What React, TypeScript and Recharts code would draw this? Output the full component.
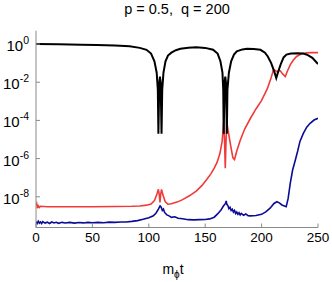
import * as React from 'react';
import { LineChart, Line, XAxis, YAxis } from 'recharts';

// time axis (m_phi t) and log10 of each quantity
const tBlack = [0, 20, 40, 54, 70, 83, 92, 98, 102, 105, 107, 108, 108.5, 109.3, 109.9, 110.5, 111.3, 111.9, 113, 114.8, 117, 120, 124, 128, 135, 142, 150, 157, 161, 163.5, 165.3, 166, 166.4, 167.2, 167.8, 168.4, 169.2, 169.7, 171, 173, 175.5, 178, 183, 187, 193, 199, 203, 205.5, 208.5, 211, 213, 215, 217, 219.5, 222, 226, 232, 237, 241, 245, 250];
const logBlack = [0, -0.01, -0.03, -0.05, -0.08, -0.12, -0.2, -0.3, -0.5, -0.9, -1.5, -2.4, -4.7, -2.0, -1.7, -2.0, -4.7, -2.4, -1.5, -0.9, -0.6, -0.45, -0.32, -0.25, -0.19, -0.17, -0.2, -0.3, -0.5, -0.9, -1.5, -2.4, -4.7, -2.0, -1.7, -2.0, -4.7, -2.4, -1.5, -0.9, -0.55, -0.38, -0.28, -0.25, -0.26, -0.3, -0.45, -0.65, -1.0, -1.4, -1.78, -1.4, -1.05, -0.7, -0.55, -0.5, -0.48, -0.5, -0.58, -0.72, -1.05];

const tRed = [0, 0.6, 1.2, 2, 3, 4, 10, 30, 50, 70, 85, 92, 98, 102, 105, 107, 108.5, 109.3, 109.9, 110.5, 111.3, 112.5, 114.5, 117, 120, 125, 130, 136, 142, 147, 151, 155, 158, 160.5, 163, 165, 166.4, 167.1, 167.8, 168.5, 169.2, 170.5, 172.5, 174.5, 176, 178, 181, 185, 190, 195, 200, 205, 208, 210.6, 212, 213.6, 215, 216.5, 218.5, 221, 223, 225.5, 228, 231, 235, 240, 245, 250];
const logRed = [-8.45, -8.36, -8.6, -8.47, -8.56, -8.5, -8.52, -8.52, -8.52, -8.51, -8.5, -8.48, -8.44, -8.38, -8.2, -7.9, -7.61, -7.9, -8.3, -7.9, -7.61, -7.9, -8.25, -8.39, -8.37, -8.28, -8.15, -7.95, -7.7, -7.42, -7.12, -6.8, -6.5, -6.2, -5.75, -5.1, -4.1, -5.0, -6.5, -5.0, -4.1, -4.6, -5.3, -5.95, -6.05, -5.6, -5.05, -4.45, -3.9, -3.4, -2.95, -2.35, -1.85, -1.34, -1.38, -1.45, -1.4, -1.4, -1.55, -1.7, -1.4, -1.08, -0.85, -0.65, -0.52, -0.46, -0.44, -0.45];

const tBlue = [0, 1, 2, 3, 4, 5, 6, 8, 10, 12, 14, 16, 18, 20, 23, 26, 30, 34, 38, 42, 46, 50, 55, 60, 65, 70, 75, 80, 85, 90, 95, 100, 104, 106.5, 108.5, 110, 111, 112, 113, 114, 116, 118, 120, 123, 126, 130, 135, 140, 145, 150, 154, 158, 161, 164, 166, 168, 168.6, 169.2, 170, 171, 172, 173, 174, 175, 176, 177, 178, 179, 180, 181, 182, 184, 186, 188, 190, 195, 200, 204, 207.5, 211, 213.6, 216, 218, 221.8, 223.5, 225.4, 227.5, 229.8, 232, 234, 237, 240, 243, 246.5, 250];
const logBlue = [-9.3, -9.4, -9.28, -9.38, -9.32, -9.4, -9.3, -9.38, -9.33, -9.4, -9.32, -9.37, -9.34, -9.39, -9.34, -9.37, -9.34, -9.38, -9.35, -9.37, -9.34, -9.36, -9.34, -9.36, -9.33, -9.34, -9.32, -9.32, -9.29, -9.25, -9.18, -9.1, -9.0, -8.85, -8.65, -8.48, -8.55, -8.72, -8.65, -8.82, -8.95, -9.0, -9.08, -9.05, -9.13, -9.15, -9.2, -9.21, -9.2, -9.19, -9.16, -9.07, -8.9, -8.7, -8.5, -8.35, -8.22, -8.4, -8.45, -8.62, -8.55, -8.72, -8.65, -8.8, -8.72, -8.88, -8.8, -8.92, -8.84, -8.95, -8.87, -8.97, -8.9, -8.99, -9.0, -8.98, -8.92, -8.78, -8.6, -8.35, -8.26, -8.33, -8.43, -8.52, -8.1, -7.3, -6.6, -6.1, -5.6, -5.1, -4.68, -4.35, -4.15, -3.98, -3.89];

const xTicks = [0, 50, 100, 150, 200, 250];
const decades = [-9, -8, -7, -6, -5, -4, -3, -2, -1, 0];

const yTicks = decades.map((e) => Math.pow(10, e));
const yDomain = [Math.pow(10, -9.61), Math.pow(10, 0.7)];

const toPoints = (ts: number[], logs: number[]) =>
  ts.map((t, i) => ({ t, v: Math.pow(10, logs[i]) }));

const blackData = toPoints(tBlack, logBlack);
const redData = toPoints(tRed, logRed);
const blueData = toPoints(tBlue, logBlue);

// no serif face renders here, so a narrow sans keeps the text widths close
const FONT = "'Liberation Sans', Arial, sans-serif";
const FRAME = '#8a8a8a';

function YTick({ x, y, payload }: any) {
  const e = Math.round(Math.log10(payload.value));
  if (e % 2 !== 0) return <g />;
  return (
    <text x={x} y={y + 7} textAnchor="end" style={{ fontFamily: FONT, fontSize: 15 }} fill="#000">
      10<tspan dy={-7} style={{ fontSize: 10.5 }}>{e}</tspan>
    </text>
  );
}

function XTick({ x, y, payload }: any) {
  return (
    <text x={x} y={y + 10} textAnchor="middle" style={{ fontFamily: FONT, fontSize: 13.5 }} fill="#000">
      {payload.value}
    </text>
  );
}

const NoTick = () => <g />;

export default function App() {
  return (
    <div style={{ position: 'absolute', left: 0, top: 0, width: 332, height: 282, background: '#fff', fontFamily: FONT }}>
      <LineChart width={332} height={282} margin={{ top: 30.7, right: 14, bottom: 14.5, left: 0 }}>
        <XAxis
          xAxisId="bottom"
          dataKey="t"
          type="number"
          domain={[0, 250]}
          ticks={xTicks}
          allowDataOverflow
          height={40}
          tickSize={-4}
          tickMargin={8}
          stroke={FRAME}
          tick={<XTick />}
        />
        <XAxis
          xAxisId="top"
          orientation="top"
          dataKey="t"
          type="number"
          domain={[0, 250]}
          ticks={xTicks}
          allowDataOverflow
          height={0}
          tickSize={-4}
          stroke={FRAME}
          tick={NoTick}
        />
        <YAxis
          yAxisId="left"
          dataKey="v"
          type="number"
          scale="log"
          domain={yDomain}
          ticks={yTicks}
          allowDataOverflow
          width={36}
          tickSize={-4}
          tickMargin={11}
          stroke={FRAME}
          tick={<YTick />}
        />
        <YAxis
          yAxisId="right"
          orientation="right"
          dataKey="v"
          type="number"
          scale="log"
          domain={yDomain}
          ticks={yTicks}
          allowDataOverflow
          width={0}
          tickSize={-4}
          stroke={FRAME}
          tick={NoTick}
        />
        <Line
          data={blueData}
          xAxisId="bottom"
          yAxisId="left"
          dataKey="v"
          stroke="#0b0b94"
          strokeWidth={1.6}
          dot={false}
          isAnimationActive={false}
        />
        <Line
          data={redData}
          xAxisId="bottom"
          yAxisId="left"
          dataKey="v"
          stroke="#f03a3a"
          strokeWidth={1.6}
          dot={false}
          isAnimationActive={false}
        />
        <Line
          data={blackData}
          xAxisId="bottom"
          yAxisId="left"
          dataKey="v"
          stroke="#000"
          strokeWidth={2}
          dot={false}
          isAnimationActive={false}
        />
      </LineChart>
      <svg width={332} height={282} style={{ position: 'absolute', left: 0, top: 0, pointerEvents: 'none' }}>
        <text x={177} y={14} textAnchor="middle" style={{ fontFamily: FONT, fontSize: 14.5, whiteSpace: 'pre' }} fill="#000">
          {'p = 0.5,  q = 200'}
        </text>
        <text x={173} y={274} textAnchor="middle" style={{ fontFamily: FONT, fontSize: 14 }} fill="#000">
          m<tspan dy={4} style={{ fontSize: 10 }}>ϕ</tspan>
          <tspan dy={-4}>t</tspan>
        </text>
      </svg>
    </div>
  );
}
